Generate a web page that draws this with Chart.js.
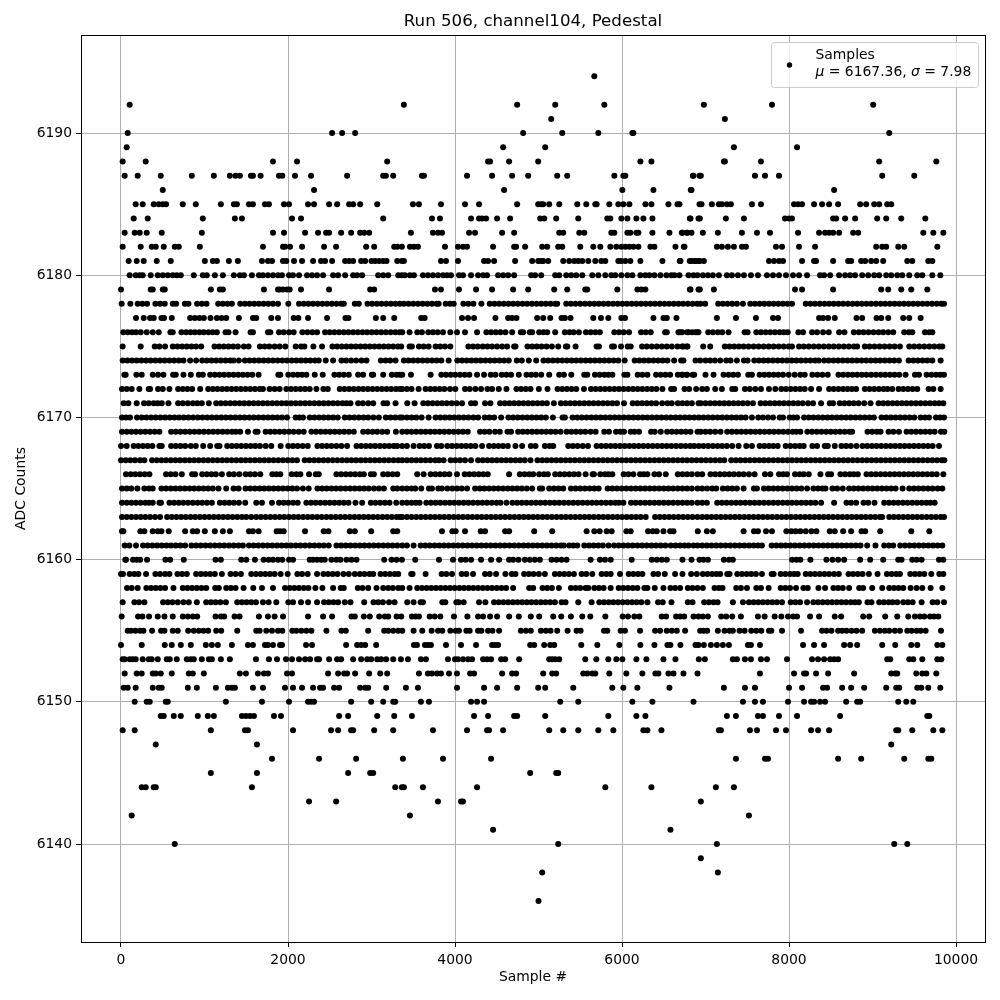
<!DOCTYPE html>
<html>
<head>
<meta charset="utf-8">
<script src="https://cdn.jsdelivr.net/npm/chart.js@4"></script>
<style>
html, body { margin: 0; padding: 0; background: #fff; }
canvas { display: block; }
</style>
</head>
<body>
<canvas id="chart" width="1000" height="1000"></canvas>
<script>
var titleText = 'Run 506, channel104, Pedestal';
var xLabel = 'Sample #';
var yLabel = 'ADC Counts';
var legendName = 'Samples';
var legendMean = '6167.36';
var legendSigma = '7.98';
var xTicks = [0, 2000, 4000, 6000, 8000, 10000];
var yTicks = [6140, 6150, 6160, 6170, 6180, 6190];

/* sample numbers, one list per ADC level */
var s6136 = [5000];
var s6138 = [5044, 7148];
var s6139 = [6944];
var s6140 = [644, 5236, 7136, 9260, 9416];
var s6141 = [4456, 6580];
var s6142 = [128, 3460, 7520];
var s6143 = [2252, 2576, 3796, 4072, 4096, 6944];
var s6144 = [248, 296, 392, 416, 1568, 3284, 3364, 3388, 3616, 4264, 5800, 6352, 7124, 7340];
var s6145 = [1076, 1628, 2720, 2984, 3020, 4900, 5212, 5236];
var s6146 = [1808, 2372, 2816, 3376, 3856, 4432, 7364, 7712, 7748, 8588, 8864, 9380, 9668, 9704];
var s6147 = [416, 1628, 9224];
var s6148 = [20, 164, 1076, 1484, 1520, 2060, 2516, 2600, 2756, 2780, 3032, 3260, 3736, 4144, 4384, 4408, 4576, 5128, 5296, 5476, 5716, 5896, 6256, 6304, 6472, 7160, 7184, 7532, 7616, 7844, 7964, 8264, 8348, 8480, 9284, 9308, 9476, 9728, 9836];
var s6149 = [476, 512, 632, 716, 920, 1040, 1112, 1448, 1496, 1544, 1592, 1832, 1916, 2612, 2720, 3068, 3272, 3484, 4228, 4396, 4708, 4744, 5080, 5836, 6172, 6280, 7256, 7364, 7628, 7688, 7880, 8096, 8612, 9656, 9680];
var s6150 = [164, 308, 344, 536, 560, 1256, 1688, 2012, 2240, 2276, 2312, 2756, 2996, 3140, 3260, 3284, 3592, 3688, 4192, 4264, 4348, 5260, 5476, 6124, 6364, 6856, 7448, 7592, 7688, 7988, 8180, 8264, 8300, 8372, 8432, 8684, 8816, 8852, 9308, 9404, 9488];
var s6151 = [32, 80, 176, 380, 452, 488, 800, 908, 1136, 1280, 1328, 1364, 1580, 1700, 1964, 2060, 2168, 2300, 2384, 2420, 2552, 2612, 2864, 2924, 2960, 3176, 3412, 3556, 4024, 4348, 4504, 4744, 4996, 5080, 5416, 5884, 6016, 6184, 6568, 7220, 7472, 7592, 8000, 8156, 8408, 8456, 8636, 8744, 8900, 9164, 9284, 9320, 9536, 9584, 9668, 9812];
var s6152 = [44, 188, 248, 380, 416, 476, 608, 812, 860, 992, 1424, 1496, 1640, 1712, 1760, 1988, 2048, 2480, 2600, 2672, 2708, 2804, 2972, 3104, 3188, 3568, 3676, 3724, 3784, 3832, 3928, 4024, 4180, 4228, 4564, 4684, 4732, 5056, 5164, 5212, 5536, 5584, 5644, 5680, 5848, 6052, 6244, 6400, 6436, 6556, 6616, 6736, 6904, 7652, 8060, 8180, 8204, 8324, 8468, 8780, 9224, 9272, 9296, 9524, 9596, 9644, 9764];
var s6153 = [20, 44, 104, 140, 176, 260, 332, 368, 440, 548, 584, 668, 788, 836, 872, 968, 1052, 1088, 1196, 1304, 1616, 1772, 1868, 1976, 2048, 2132, 2204, 2264, 2348, 2372, 2492, 2588, 2636, 2780, 2876, 2948, 2996, 3068, 3116, 3176, 3260, 3352, 3436, 3592, 3652, 3916, 4000, 4036, 4096, 4156, 4204, 4336, 4384, 4432, 4552, 4600, 4768, 5128, 5164, 5200, 5248, 5560, 5692, 5836, 5932, 6004, 6172, 6292, 6496, 6640, 6920, 6992, 7328, 7376, 7472, 7544, 7664, 7736, 7976, 8276, 8348, 8420, 8492, 8540, 8588, 9176, 9212, 9440, 9488, 9596, 9776, 9824];
var s6154 = [0, 248, 524, 608, 716, 836, 1016, 1088, 1160, 1328, 1520, 1580, 1724, 1760, 1820, 1904, 1928, 2216, 2288, 2696, 2828, 2876, 2924, 3056, 3508, 3544, 3640, 3676, 3712, 3892, 4072, 4252, 4444, 4480, 4516, 4900, 4948, 5068, 5140, 5188, 5512, 5704, 5968, 6220, 6388, 6544, 6580, 6700, 6880, 6916, 6980, 7064, 7136, 7208, 7280, 7508, 7544, 7652, 8168, 8300, 8420, 8660, 8732, 8816, 9116, 9272, 9464, 9536, 9776, 9836];
var s6155 = [80, 120, 172, 228, 268, 372, 480, 520, 620, 680, 804, 872, 932, 988, 1044, 1140, 1200, 1392, 1620, 1660, 1740, 1808, 1880, 1932, 2052, 2100, 2160, 2220, 2280, 2460, 2640, 2692, 2960, 3152, 3200, 3260, 3320, 3368, 3504, 3608, 3720, 3796, 3848, 3944, 4008, 4048, 4136, 4176, 4276, 4316, 4396, 4448, 4528, 4788, 4848, 4908, 5028, 5088, 5144, 5224, 5348, 5456, 5504, 5784, 5824, 5984, 6036, 6216, 6396, 6456, 6536, 6596, 6656, 6756, 6936, 6976, 7020, 7148, 7228, 7288, 7328, 7408, 7468, 7548, 7608, 7668, 7760, 7788, 7916, 8144, 8396, 8448, 8508, 8588, 8636, 8688, 8748, 8808, 8876, 9028, 9088, 9148, 9200, 9268, 9328, 9416, 9468, 9528, 9576, 9636, 9820];
var s6156 = [8, 204, 256, 336, 440, 520, 620, 740, 800, 860, 912, 1132, 1196, 1236, 1360, 1420, 1652, 1760, 1840, 1940, 2240, 2420, 2528, 2760, 2800, 2908, 2980, 3092, 3160, 3200, 3300, 3356, 3484, 3528, 3568, 3696, 3756, 3824, 3988, 4148, 4276, 4336, 4420, 4504, 4648, 4764, 4908, 5008, 5176, 5272, 5388, 5524, 5620, 5800, 6008, 6072, 6148, 6208, 6476, 6528, 6648, 6696, 6744, 6856, 6916, 6968, 7028, 7188, 7248, 7320, 7424, 7628, 7708, 7828, 7908, 7988, 8048, 8096, 8252, 8360, 8548, 8624, 8888, 8960, 9152, 9296, 9428, 9508, 9568, 9620, 9688, 9736, 9788];
var s6157 = [20, 160, 216, 280, 504, 560, 616, 680, 748, 812, 908, 1020, 1076, 1132, 1190, 1256, 1392, 1448, 1504, 1560, 1616, 1700, 1768, 1860, 2004, 2060, 2156, 2240, 2348, 2432, 2488, 2544, 2600, 2680, 2748, 2912, 3024, 3080, 3136, 3210, 3276, 3428, 3504, 3588, 3616, 3848, 3884, 4016, 4044, 4104, 4288, 4364, 4468, 4524, 4580, 4636, 4692, 4748, 4804, 4860, 4916, 4972, 5028, 5084, 5140, 5196, 5276, 5324, 5476, 5636, 5728, 5784, 5840, 5896, 5952, 6008, 6064, 6120, 6176, 6232, 6304, 6432, 6488, 6592, 6788, 6844, 6984, 7040, 7096, 7144, 7328, 7448, 7520, 7576, 7632, 7688, 7744, 7800, 7856, 7916, 8020, 8076, 8132, 8216, 8292, 8348, 8404, 8460, 8516, 8572, 8628, 8684, 8740, 8790, 8836, 8940, 8988, 9080, 9136, 9192, 9240, 9296, 9368, 9424, 9480, 9588, 9720, 9776, 9856];
var s6158 = [72, 128, 200, 304, 360, 416, 472, 528, 628, 740, 796, 852, 908, 964, 1020, 1128, 1172, 1260, 1316, 1372, 1468, 1584, 1688, 1820, 1964, 2020, 2076, 2132, 2188, 2244, 2328, 2412, 2540, 2632, 2668, 2836, 2892, 2960, 3060, 3140, 3200, 3256, 3320, 3368, 3456, 3548, 3604, 3660, 3716, 3772, 3828, 3884, 3940, 3996, 4052, 4108, 4164, 4220, 4276, 4332, 4388, 4444, 4500, 4556, 4612, 4696, 4888, 4936, 5048, 5104, 5160, 5244, 5388, 5444, 5500, 5564, 5596, 5668, 5724, 5780, 5864, 5960, 6016, 6072, 6128, 6184, 6268, 6304, 6392, 6496, 6580, 6636, 6696, 6788, 6844, 6904, 6968, 7108, 7160, 7204, 7368, 7424, 7496, 7608, 7664, 7756, 7900, 7956, 8012, 8084, 8172, 8224, 8352, 8432, 8532, 8588, 8644, 8720, 8840, 8888, 8996, 9116, 9200, 9256, 9312, 9368, 9456, 9528, 9596, 9696, 9836];
var s6159 = [0, 24, 104, 160, 208, 300, 412, 468, 528, 580, 676, 732, 788, 900, 956, 1012, 1068, 1124, 1208, 1312, 1372, 1436, 1560, 1616, 1672, 1728, 1784, 1840, 1912, 1996, 2112, 2168, 2236, 2348, 2424, 2480, 2536, 2592, 2664, 2728, 2800, 2860, 2916, 2976, 3020, 3108, 3164, 3220, 3276, 3320, 3476, 3492, 3648, 3840, 3896, 3964, 4080, 4136, 4216, 4360, 4416, 4492, 4604, 4680, 4724, 4828, 4884, 4940, 5004, 5076, 5196, 5252, 5308, 5364, 5424, 5516, 5572, 5644, 5756, 5812, 5864, 5976, 6080, 6136, 6192, 6244, 6376, 6432, 6512, 6636, 6724, 6828, 6896, 6968, 7024, 7080, 7130, 7176, 7260, 7288, 7380, 7436, 7492, 7548, 7604, 7676, 7792, 7816, 7900, 7956, 8012, 8060, 8104, 8200, 8256, 8312, 8368, 8424, 8480, 8540, 8596, 8712, 8768, 8824, 8880, 8956, 9060, 9172, 9228, 9284, 9328, 9452, 9508, 9564, 9620, 9704, 9800, 9848];
var s6160 = [52, 60, 144, 188, 228, 312, 532, 588, 752, 1132, 1196, 1440, 1500, 1604, 1708, 1768, 1820, 1880, 1932, 2012, 2060, 2260, 2300, 2348, 2396, 2440, 2520, 2580, 2628, 2700, 2760, 2820, 3152, 3240, 3300, 3364, 3524, 3808, 3976, 4072, 4128, 4192, 4312, 4432, 4528, 4648, 4696, 4760, 4836, 4896, 4956, 5016, 5156, 5216, 5276, 5336, 5624, 5736, 5796, 5864, 6116, 6356, 6416, 6476, 6536, 6724, 6832, 6928, 6976, 7028, 7220, 7280, 7328, 8036, 8088, 8136, 8256, 8448, 8520, 8588, 8660, 8852, 8972, 9128, 9308, 9348, 9476, 9528, 9588, 9796, 9848];
var s6161 = [44, 100, 180, 264, 320, 376, 432, 488, 544, 600, 656, 712, 768, 844, 900, 956, 1012, 1068, 1124, 1180, 1236, 1292, 1350, 1408, 1460, 1532, 1588, 1644, 1700, 1756, 1812, 1868, 1924, 1980, 2036, 2092, 2148, 2204, 2260, 2316, 2372, 2428, 2488, 2580, 2636, 2692, 2748, 2804, 2860, 2916, 2972, 3028, 3084, 3140, 3196, 3252, 3308, 3368, 3424, 3504, 3588, 3644, 3700, 3756, 3812, 3868, 3924, 3980, 4036, 4092, 4148, 4204, 4260, 4316, 4372, 4428, 4484, 4540, 4596, 4652, 4708, 4764, 4820, 4876, 4932, 4988, 5044, 5100, 5156, 5212, 5268, 5304, 5368, 5416, 5464, 5548, 5604, 5660, 5716, 5772, 5840, 5904, 5960, 6016, 6072, 6128, 6184, 6240, 6296, 6352, 6408, 6464, 6520, 6584, 6640, 6696, 6748, 6796, 6856, 6904, 6960, 7016, 7072, 7128, 7184, 7240, 7296, 7352, 7408, 7464, 7520, 7576, 7628, 7676, 7792, 7848, 7904, 7960, 8016, 8072, 8128, 8184, 8240, 8296, 8352, 8408, 8464, 8520, 8576, 8632, 8688, 8744, 8800, 8856, 8936, 9036, 9140, 9196, 9248, 9332, 9388, 9444, 9500, 9556, 9612, 9668, 9724, 9780, 9836];
var s6162 = [12, 28, 232, 280, 380, 440, 484, 572, 768, 860, 912, 1004, 1124, 1220, 1304, 1532, 1580, 1648, 1864, 1904, 1948, 2204, 2428, 2484, 2740, 2800, 2996, 3260, 3308, 3844, 3968, 4008, 4120, 4308, 4360, 4600, 4648, 4948, 5164, 5576, 5668, 5732, 5816, 5876, 6052, 6104, 6312, 6368, 6416, 6496, 6576, 6616, 6908, 7016, 7088, 7456, 7580, 7628, 7724, 7796, 7968, 8028, 8080, 8136, 8200, 8268, 8328, 8488, 8548, 8648, 8744, 8868, 8912, 9092, 9464, 9680];
var s6163 = [12, 68, 124, 180, 236, 292, 348, 408, 468, 552, 608, 664, 720, 776, 832, 888, 944, 1000, 1056, 1112, 1168, 1224, 1280, 1336, 1392, 1448, 1500, 1560, 1620, 1676, 1732, 1788, 1844, 1900, 1956, 2012, 2068, 2124, 2180, 2236, 2292, 2348, 2404, 2460, 2516, 2572, 2628, 2684, 2740, 2796, 2852, 2908, 2964, 3020, 3076, 3132, 3188, 3244, 3300, 3340, 3368, 3424, 3480, 3536, 3592, 3648, 3704, 3760, 3816, 3872, 3928, 3984, 4040, 4096, 4152, 4208, 4264, 4320, 4376, 4432, 4488, 4544, 4600, 4656, 4712, 4768, 4824, 4880, 4936, 4992, 5048, 5104, 5160, 5216, 5272, 5328, 5384, 5440, 5496, 5552, 5608, 5664, 5720, 5776, 5832, 5888, 5944, 6000, 6056, 6112, 6168, 6224, 6284, 6396, 6452, 6508, 6564, 6620, 6676, 6732, 6788, 6844, 6904, 6960, 7016, 7072, 7128, 7184, 7240, 7296, 7352, 7408, 7464, 7520, 7576, 7632, 7688, 7744, 7800, 7856, 7912, 7968, 8024, 8080, 8136, 8192, 8248, 8304, 8360, 8416, 8472, 8528, 8584, 8640, 8696, 8752, 8808, 8864, 8920, 8976, 9032, 9088, 9116, 9200, 9256, 9312, 9368, 9424, 9480, 9536, 9592, 9648, 9704, 9760, 9816, 9856];
var s6164 = [12, 68, 124, 180, 236, 292, 336, 380, 460, 480, 580, 636, 692, 748, 804, 860, 916, 972, 1030, 1088, 1184, 1240, 1296, 1352, 1412, 1488, 1620, 1688, 1808, 1892, 1948, 2004, 2060, 2116, 2220, 2276, 2332, 2388, 2444, 2500, 2556, 2612, 2668, 2724, 2808, 2888, 2992, 3048, 3104, 3160, 3216, 3296, 3368, 3424, 3480, 3530, 3576, 3656, 3712, 3768, 3824, 3880, 3936, 3992, 4048, 4104, 4160, 4216, 4272, 4328, 4384, 4440, 4496, 4544, 4616, 4688, 4744, 4800, 4856, 4912, 4968, 5024, 5080, 5136, 5192, 5248, 5304, 5360, 5416, 5472, 5528, 5584, 5640, 5696, 5752, 5808, 5864, 5920, 5964, 6016, 6108, 6164, 6220, 6276, 6332, 6388, 6444, 6500, 6556, 6612, 6668, 6724, 6780, 6836, 6904, 6960, 7016, 7140, 7196, 7252, 7308, 7364, 7420, 7476, 7532, 7588, 7644, 7700, 7756, 7812, 7868, 7924, 7980, 8036, 8092, 8148, 8204, 8260, 8316, 8384, 8540, 8688, 8744, 8804, 8892, 8948, 9024, 9140, 9196, 9252, 9308, 9364, 9420, 9476, 9532, 9588, 9644, 9692, 9744];
var s6165 = [12, 68, 124, 196, 280, 336, 380, 484, 540, 596, 652, 708, 764, 820, 876, 932, 988, 1044, 1100, 1168, 1260, 1348, 1408, 1492, 1548, 1604, 1660, 1716, 1772, 1828, 1884, 1940, 1996, 2052, 2108, 2178, 2248, 2352, 2408, 2464, 2520, 2576, 2632, 2688, 2744, 2800, 2856, 2912, 2968, 3030, 3090, 3148, 3260, 3308, 3368, 3424, 3480, 3524, 3596, 3688, 3724, 3800, 3844, 3908, 3968, 4024, 4080, 4144, 4240, 4296, 4352, 4408, 4464, 4520, 4576, 4632, 4688, 4744, 4800, 4860, 4924, 5016, 5044, 5128, 5184, 5240, 5296, 5388, 5444, 5500, 5556, 5612, 5668, 5720, 5828, 5884, 5940, 5996, 6052, 6108, 6164, 6220, 6276, 6332, 6388, 6444, 6500, 6556, 6612, 6668, 6724, 6780, 6836, 6904, 6960, 7020, 7080, 7128, 7208, 7264, 7320, 7376, 7456, 7580, 7616, 7700, 7756, 7812, 7868, 7924, 7980, 8036, 8092, 8148, 8216, 8292, 8348, 8400, 8436, 8520, 8576, 8644, 8720, 8776, 8832, 8888, 8944, 9000, 9056, 9112, 9168, 9224, 9276, 9360, 9440, 9496, 9552, 9608, 9664, 9720, 9780, 9836];
var s6166 = [60, 116, 172, 228, 284, 340, 540, 596, 652, 728, 852, 888, 972, 1028, 1084, 1136, 1208, 1296, 1352, 1416, 1492, 1548, 1604, 1668, 1812, 1860, 1908, 2044, 2100, 2148, 2252, 2332, 2368, 2580, 2636, 2692, 2748, 2804, 2860, 2908, 2992, 3028, 3140, 3196, 3252, 3308, 3548, 3624, 3708, 3764, 3820, 3876, 3932, 4024, 4116, 4172, 4228, 4284, 4340, 4392, 4648, 4776, 4832, 4888, 4936, 5008, 5064, 5112, 5200, 5256, 5312, 5368, 5424, 5480, 5564, 5648, 5664, 5740, 5796, 5840, 5884, 6020, 6076, 6136, 6216, 6260, 6304, 6388, 6444, 6524, 6668, 6724, 6780, 6836, 6904, 6960, 7060, 7116, 7172, 7228, 7284, 7340, 7400, 7456, 7520, 7588, 7712, 7776, 7880, 7930, 7976, 8072, 8128, 8176, 8236, 8376, 8468, 8504, 8616, 8672, 8728, 8775, 8824, 8928, 8984, 9040, 9096, 9152, 9208, 9264, 9320, 9376, 9432, 9488, 9544, 9600, 9656, 9712, 9768, 9848];
var s6167 = [0, 56, 112, 168, 228, 280, 372, 428, 484, 540, 596, 652, 708, 764, 820, 876, 932, 988, 1044, 1100, 1156, 1212, 1268, 1324, 1380, 1436, 1492, 1548, 1604, 1660, 1716, 1772, 1828, 1884, 1940, 1996, 2052, 2108, 2200, 2256, 2312, 2368, 2424, 2480, 2536, 2592, 2648, 2704, 2760, 2816, 2872, 2928, 2984, 3040, 3096, 3152, 3208, 3264, 3320, 3368, 3424, 3480, 3536, 3592, 3648, 3704, 3764, 3808, 3864, 3948, 4004, 4060, 4120, 4192, 4276, 4332, 4388, 4444, 4500, 4556, 4612, 4668, 4724, 4780, 4836, 4904, 4988, 5044, 5100, 5156, 5212, 5268, 5324, 5380, 5436, 5492, 5548, 5604, 5660, 5716, 5772, 5828, 5884, 5940, 5996, 6052, 6108, 6164, 6220, 6276, 6332, 6388, 6444, 6500, 6556, 6612, 6668, 6724, 6780, 6836, 6892, 6948, 7004, 7060, 7116, 7172, 7224, 7308, 7364, 7420, 7476, 7532, 7588, 7644, 7700, 7756, 7812, 7868, 7924, 7980, 8036, 8092, 8148, 8204, 8260, 8316, 8372, 8428, 8484, 8540, 8596, 8652, 8708, 8764, 8820, 8876, 8932, 8988, 9044, 9100, 9156, 9212, 9268, 9324, 9380, 9436, 9492, 9548, 9604, 9660, 9716, 9772, 9828, 9860];
var s6168 = [0, 68, 152, 208, 264, 320, 376, 460, 488, 600, 656, 712, 768, 836, 896, 984, 1068, 1152, 1180, 1272, 1328, 1384, 1440, 1496, 1552, 1608, 1664, 1732, 1800, 1912, 2004, 2060, 2116, 2176, 2236, 2352, 2408, 2464, 2520, 2580, 2640, 2708, 2820, 2876, 2932, 2988, 3044, 3100, 3156, 3212, 3268, 3308, 3368, 3424, 3504, 3576, 3632, 3688, 3784, 3836, 3908, 3964, 4020, 4076, 4132, 4188, 4244, 4324, 4408, 4464, 4520, 4576, 4632, 4724, 4804, 4908, 4964, 5076, 5132, 5176, 5356, 5412, 5468, 5530, 5592, 5696, 5752, 5808, 5864, 5920, 5976, 6032, 6088, 6144, 6200, 6256, 6312, 6368, 6424, 6480, 6536, 6592, 6648, 6704, 6760, 6816, 6864, 6920, 6976, 7032, 7088, 7144, 7200, 7256, 7320, 7396, 7488, 7556, 7648, 7704, 7760, 7812, 7864, 7960, 8016, 8072, 8128, 8176, 8280, 8336, 8428, 8464, 8548, 8628, 8684, 8740, 8808, 8880, 8936, 8992, 9048, 9104, 9160, 9216, 9272, 9328, 9384, 9440, 9496, 9552, 9608, 9664, 9720, 9796];
var s6169 = [12, 68, 124, 180, 236, 292, 348, 404, 460, 600, 656, 712, 768, 824, 880, 936, 992, 1048, 1104, 1160, 1216, 1272, 1328, 1376, 1428, 1520, 1612, 1636, 1732, 1788, 1844, 1900, 1956, 2012, 2068, 2128, 2188, 2280, 2336, 2392, 2448, 2504, 2560, 2616, 2672, 2728, 2788, 2900, 2956, 3012, 3068, 3128, 3188, 3292, 3368, 3424, 3480, 3536, 3592, 3648, 3704, 3760, 3816, 3872, 3928, 3984, 4040, 4096, 4152, 4300, 4356, 4412, 4480, 4536, 4628, 4672, 4756, 4812, 4868, 4924, 4980, 5036, 5092, 5148, 5204, 5264, 5336, 5392, 5448, 5504, 5560, 5624, 5684, 5788, 5844, 5928, 5980, 6024, 6104, 6150, 6204, 6348, 6392, 6464, 6540, 6596, 6652, 6708, 6764, 6820, 6904, 6944, 7000, 7056, 7116, 7180, 7260, 7316, 7372, 7428, 7484, 7540, 7596, 7652, 7708, 7764, 7820, 7876, 7932, 7988, 8044, 8088, 8136, 8220, 8276, 8332, 8388, 8444, 8500, 8556, 8612, 8668, 8724, 8756, 8940, 8996, 9052, 9096, 9192, 9250, 9316, 9408, 9464, 9520, 9576, 9632, 9688, 9744, 9820, 9860];
var s6170 = [12, 60, 108, 192, 248, 304, 360, 416, 472, 528, 584, 640, 696, 752, 808, 864, 920, 976, 1032, 1088, 1144, 1200, 1256, 1312, 1368, 1424, 1480, 1536, 1592, 1648, 1704, 1760, 1816, 1872, 1928, 1988, 2092, 2136, 2180, 2260, 2316, 2372, 2428, 2484, 2540, 2596, 2680, 2736, 2792, 2848, 2904, 2960, 3024, 3088, 3172, 3228, 3284, 3340, 3368, 3424, 3480, 3536, 3600, 3684, 3768, 3824, 3880, 3936, 3992, 4048, 4104, 4160, 4220, 4276, 4356, 4412, 4468, 4552, 4640, 4696, 4752, 4808, 4864, 4920, 4976, 5032, 5088, 5172, 5288, 5316, 5408, 5464, 5520, 5576, 5632, 5688, 5744, 5800, 5856, 5912, 5968, 6024, 6080, 6136, 6192, 6248, 6304, 6360, 6416, 6472, 6528, 6584, 6640, 6696, 6752, 6808, 6864, 6920, 6976, 7032, 7088, 7144, 7200, 7256, 7312, 7368, 7424, 7480, 7556, 7632, 7688, 7748, 7808, 7888, 7928, 8008, 8052, 8096, 8180, 8236, 8292, 8348, 8404, 8460, 8516, 8572, 8628, 8684, 8740, 8796, 8852, 8908, 8964, 9016, 9108, 9164, 9220, 9276, 9332, 9388, 9444, 9500, 9576, 9628, 9676, 9760, 9810, 9856];
var s6171 = [32, 88, 188, 276, 332, 392, 440, 488, 568, 684, 740, 800, 860, 914, 968, 1052, 1140, 1196, 1252, 1308, 1364, 1420, 1476, 1532, 1588, 1644, 1700, 1756, 1812, 1868, 1924, 1980, 2036, 2092, 2148, 2204, 2260, 2316, 2372, 2428, 2484, 2540, 2596, 2652, 2700, 2748, 2840, 2896, 2960, 3020, 3144, 3188, 3288, 3428, 3516, 3620, 3676, 3732, 3788, 3844, 3900, 3960, 4020, 4084, 4192, 4240, 4360, 4424, 4540, 4596, 4652, 4708, 4764, 4820, 4876, 4932, 4988, 5044, 5100, 5184, 5268, 5324, 5380, 5436, 5492, 5548, 5604, 5660, 5716, 5772, 5828, 5884, 5940, 6024, 6128, 6184, 6240, 6296, 6352, 6408, 6480, 6544, 6596, 6668, 6724, 6780, 6836, 6916, 6944, 7000, 7056, 7112, 7168, 7224, 7280, 7336, 7392, 7448, 7504, 7568, 7660, 7716, 7772, 7828, 7884, 7940, 7996, 8052, 8108, 8164, 8228, 8288, 8384, 8488, 8528, 8608, 8664, 8720, 8776, 8832, 8900, 8976, 9072, 9128, 9184, 9240, 9296, 9352, 9408, 9464, 9520, 9576, 9632, 9688, 9744, 9796, 9848];
var s6172 = [12, 68, 128, 220, 332, 348, 444, 500, 580, 684, 740, 796, 852, 948, 1044, 1100, 1156, 1212, 1268, 1324, 1380, 1436, 1492, 1548, 1604, 1660, 1700, 1780, 1840, 1900, 1980, 2036, 2092, 2148, 2204, 2260, 2340, 2424, 2476, 2620, 2676, 2732, 2788, 2844, 2900, 2956, 3012, 3068, 3124, 3180, 3236, 3292, 3340, 3368, 3424, 3480, 3564, 3648, 3704, 3760, 3816, 3872, 3940, 4004, 4120, 4176, 4244, 4312, 4388, 4444, 4524, 4616, 4736, 4792, 4848, 4904, 5004, 5108, 5228, 5284, 5340, 5396, 5452, 5544, 5628, 5684, 5740, 5796, 5852, 5908, 5964, 6020, 6076, 6132, 6188, 6244, 6300, 6356, 6412, 6484, 6588, 6624, 6748, 6804, 6888, 6960, 7016, 7116, 7196, 7320, 7356, 7472, 7530, 7596, 7664, 7760, 7836, 7908, 7964, 8020, 8076, 8132, 8188, 8264, 8360, 8480, 8536, 8592, 8648, 8700, 8752, 8804, 8908, 8964, 9020, 9076, 9132, 9180, 9236, 9312, 9368, 9424, 9480, 9536, 9672, 9728, 9816];
var s6173 = [40, 56, 184, 248, 380, 444, 508, 624, 656, 748, 836, 932, 980, 1068, 1124, 1180, 1236, 1292, 1348, 1404, 1460, 1516, 1572, 1648, 1884, 1908, 2004, 2060, 2116, 2168, 2220, 2320, 2416, 2556, 2612, 2668, 2728, 2840, 2900, 3004, 3020, 3140, 3244, 3300, 3340, 3368, 3472, 3708, 3836, 3892, 3948, 4004, 4060, 4116, 4172, 4264, 4348, 4428, 4484, 4560, 4616, 4672, 4764, 4856, 4912, 4968, 5032, 5128, 5248, 5304, 5392, 5548, 5584, 5676, 5732, 5788, 5836, 5884, 6028, 6064, 6188, 6244, 6304, 6408, 6464, 6520, 6576, 6668, 6724, 6780, 6864, 6720, 6772, 6844, 7000, 7096, 7216, 7276, 7332, 7388, 7512, 7556, 7648, 7704, 7760, 7816, 7872, 7928, 7996, 8068, 8136, 8188, 8280, 8340, 8400, 8464, 8592, 8648, 8704, 8760, 8816, 8872, 8928, 8984, 9040, 9096, 9152, 9208, 9264, 9320, 9396, 9508, 9556, 9648, 9704, 9760, 9810, 9856];
var s6174 = [20, 76, 132, 188, 244, 300, 356, 412, 468, 524, 580, 636, 692, 748, 828, 900, 972, 1028, 1084, 1140, 1196, 1252, 1308, 1348, 1412, 1484, 1540, 1596, 1652, 1708, 1764, 1820, 1876, 1932, 1988, 2044, 2100, 2156, 2212, 2268, 2324, 2368, 2452, 2540, 2640, 2696, 2756, 2816, 2880, 2940, 3112, 3168, 3224, 3288, 3388, 3444, 3500, 3556, 3612, 3668, 3724, 3780, 3836, 3924, 4028, 4084, 4140, 4196, 4252, 4308, 4364, 4420, 4476, 4532, 4588, 4644, 4740, 4800, 4884, 4972, 5060, 5116, 5172, 5228, 5284, 5340, 5396, 5452, 5508, 5564, 5620, 5676, 5732, 5788, 5844, 5900, 5956, 6032, 6152, 6208, 6264, 6320, 6376, 6432, 6488, 6544, 6624, 6708, 6736, 6880, 6936, 7000, 7056, 7112, 7176, 7248, 7300, 7376, 7460, 7504, 7584, 7640, 7696, 7752, 7808, 7864, 7920, 7976, 8032, 8088, 8144, 8200, 8256, 8312, 8356, 8420, 8476, 8532, 8588, 8644, 8700, 8756, 8812, 8868, 8924, 8980, 9036, 9092, 9148, 9204, 9260, 9316, 9432, 9488, 9544, 9600, 9656, 9716, 9816];
var s6175 = [20, 236, 404, 460, 528, 620, 676, 732, 788, 844, 900, 960, 1120, 1176, 1232, 1288, 1344, 1400, 1472, 1528, 1664, 1720, 1776, 1840, 1900, 1968, 2092, 2156, 2196, 2304, 2408, 2532, 2588, 2644, 2700, 2756, 2812, 2868, 2924, 2980, 3036, 3092, 3148, 3204, 3260, 3316, 3356, 3456, 3484, 3568, 3624, 3684, 3768, 3824, 3880, 3944, 4160, 4216, 4272, 4332, 4388, 4444, 4504, 4564, 4624, 4708, 4724, 4868, 4924, 4980, 5036, 5096, 5160, 5236, 5328, 5344, 5444, 5696, 5724, 5880, 5904, 5988, 6068, 6104, 6240, 6296, 6356, 6416, 6476, 6536, 6596, 6664, 6736, 6784, 6720, 6776, 6972, 7056, 7232, 7288, 7344, 7400, 7456, 7516, 7576, 7636, 7696, 7756, 7816, 7876, 7936, 7996, 8036, 8120, 8176, 8236, 8296, 8356, 8416, 8476, 8536, 8596, 8656, 8716, 8776, 8816, 8908, 8964, 9024, 9084, 9144, 9204, 9264, 9328, 9440, 9500, 9560, 9620, 9680, 9740, 9800, 9836];
var s6176 = [28, 80, 132, 180, 236, 308, 380, 452, 592, 620, 724, 780, 832, 884, 940, 992, 1048, 1100, 1148, 1252, 1288, 1372, 1552, 1580, 1760, 1788, 1892, 1948, 2012, 2068, 2172, 2232, 2292, 2348, 2444, 2500, 2556, 2612, 2668, 2724, 2780, 2836, 2892, 2948, 3004, 3060, 3116, 3172, 3228, 3284, 3336, 3368, 3456, 3548, 3604, 3680, 3736, 3792, 3856, 3944, 4024, 4120, 4264, 4376, 4432, 4488, 4544, 4604, 4684, 4788, 4816, 4896, 4924, 5008, 5060, 5104, 5200, 5316, 5372, 5420, 5484, 5568, 5624, 5680, 5734, 5908, 5964, 6020, 6084, 6228, 6284, 6344, 6516, 6536, 6676, 6696, 6780, 6840, 6916, 6720, 6796, 6880, 6904, 7032, 7088, 7148, 7200, 7276, 7468, 7504, 7608, 7664, 7720, 7776, 7832, 7888, 7936, 7984, 8112, 8168, 8276, 8336, 8408, 8476, 8600, 8664, 8776, 8836, 8892, 8952, 9012, 9072, 9128, 9188, 9248, 9380, 9436, 9476, 9628, 9680, 9716];
var s6177 = [180, 272, 348, 392, 484, 516, 608, 828, 884, 940, 992, 1072, 1148, 1204, 1260, 1412, 1580, 1620, 1800, 1880, 2068, 2124, 2240, 2468, 2688, 2724, 3052, 3140, 3272, 3596, 3636, 4084, 4156, 4228, 4484, 4636, 4684, 4736, 4984, 5056, 5140, 5276, 5316, 5384, 5656, 5748, 5836, 5992, 6036, 6376, 6496, 6536, 6652, 7136, 7364, 7604, 7808, 7868, 8360, 8408, 8468, 8548, 8808, 8876, 9048, 9104, 9188, 9368, 9440, 9576];
var s6178 = [8, 112, 200, 256, 312, 412, 468, 524, 620, 660, 764, 808, 912, 968, 1024, 1164, 1220, 1276, 1328, 1428, 1484, 1540, 1596, 1652, 1708, 1764, 1820, 1880, 2004, 2132, 2188, 2244, 2300, 2356, 2412, 2468, 2524, 2580, 2636, 2668, 2800, 2848, 2952, 3008, 3064, 3120, 3176, 3232, 3288, 3340, 3388, 3444, 3500, 3556, 3612, 3668, 3724, 3780, 3804, 3888, 3940, 3984, 4100, 4160, 4220, 4316, 4416, 4472, 4528, 4584, 4640, 4696, 4752, 4808, 4864, 4920, 4976, 5032, 5088, 5144, 5200, 5224, 5332, 5388, 5444, 5500, 5556, 5612, 5668, 5724, 5780, 5836, 5892, 5948, 6004, 6060, 6116, 6172, 6228, 6284, 6340, 6396, 6452, 6508, 6564, 6620, 6676, 6732, 6788, 6844, 6900, 6940, 6996, 7152, 7208, 7264, 7320, 7376, 7448, 7536, 7592, 7648, 7704, 7760, 7816, 7872, 7928, 7984, 8036, 8200, 8256, 8312, 8368, 8424, 8480, 8536, 8592, 8648, 8704, 8760, 8816, 8872, 8928, 8984, 9040, 9096, 9152, 9208, 9264, 9320, 9376, 9432, 9488, 9544, 9600, 9656, 9712, 9768, 9824, 9856];
var s6179 = [0, 356, 380, 500, 524, 1076, 1184, 1220, 1712, 1880, 1900, 1940, 1988, 2020, 2156, 2492, 2984, 3032, 3760, 3832, 4048, 4252, 4444, 4696, 4876, 5188, 5344, 5560, 5584, 5944, 6184, 6232, 6280, 6820, 6916, 6812, 6932, 7100, 8072, 8156, 8528, 9104, 9188, 9344, 9464, 9656];
var s6180 = [104, 176, 224, 260, 356, 440, 500, 560, 620, 668, 716, 872, 980, 1028, 1124, 1220, 1352, 1424, 1472, 1568, 1652, 1700, 1760, 1820, 1880, 1928, 2012, 2060, 2132, 2228, 2288, 2348, 2420, 2540, 2600, 2684, 2780, 2828, 2888, 3080, 3140, 3200, 3320, 3364, 3400, 3460, 3508, 3616, 3676, 3736, 3796, 3856, 3904, 3952, 4048, 4096, 4192, 4276, 4336, 4384, 4516, 4576, 4636, 4708, 4912, 4960, 5032, 5200, 5248, 5332, 5392, 5452, 5524, 5644, 5716, 5800, 5872, 5920, 5992, 6064, 6124, 6220, 6280, 6328, 6388, 6460, 6532, 6592, 6628, 6688, 6796, 6856, 6904, 6968, 7028, 7088, 7160, 7256, 7316, 7388, 7460, 7544, 7628, 7736, 7808, 7880, 7964, 8048, 8120, 8216, 8372, 8420, 8492, 8600, 8672, 8732, 8792, 8876, 8948, 9020, 9080, 9164, 9224, 9296, 9356, 9440, 9536, 9596, 9716, 9812];
var s6181 = [92, 188, 272, 428, 596, 1004, 1100, 1148, 1292, 1400, 1688, 1760, 1808, 1940, 1980, 2072, 2168, 2300, 2396, 2444, 2528, 2684, 2732, 2780, 2876, 2924, 3000, 3044, 3092, 3140, 3180, 3308, 3364, 3388, 3832, 3892, 4036, 4348, 4396, 4468, 4720, 4924, 4996, 5032, 5056, 5116, 5296, 5368, 5428, 5476, 5524, 5596, 5680, 5752, 5800, 5956, 5992, 6040, 6100, 6220, 6484, 6700, 6832, 6880, 6916, 6692, 6812, 6872, 6932, 6980, 7760, 7820, 7880, 7928, 8156, 8300, 8324, 8528, 8708, 8744, 8864, 8912, 8984, 9044, 9128, 9416, 9476, 9668, 9716];
var s6182 = [20, 236, 368, 416, 512, 644, 692, 944, 1700, 1940, 1964, 2024, 2168, 2432, 2576, 2936, 3032, 3272, 3308, 3364, 3460, 3508, 3556, 3880, 4036, 4096, 4144, 4456, 4708, 4732, 4840, 5044, 5104, 5236, 5284, 5500, 5656, 5740, 5860, 5932, 5992, 6040, 6088, 6136, 6196, 6340, 6388, 6640, 6748, 6740, 7136, 7196, 7268, 7340, 7436, 7484, 7844, 7916, 8120, 8312, 9044, 9116, 9164, 9308, 9380, 9776];
var s6183 = [44, 164, 224, 308, 488, 968, 1820, 1952, 2204, 2360, 2456, 2492, 2636, 2756, 2864, 2912, 2972, 3472, 3736, 3796, 3844, 4168, 4240, 4564, 4708, 5248, 5296, 5488, 5548, 5872, 5908, 6064, 6100, 6172, 6196, 6364, 6568, 6724, 6784, 6832, 6716, 6776, 6968, 7148, 7436, 7616, 7772, 8108, 8360, 8432, 8480, 8528, 8600, 8768, 8828, 9608, 9728, 9848];
var s6184 = [152, 320, 980, 1364, 1448, 2048, 2156, 3140, 3724, 3820, 4192, 4288, 4324, 4372, 4504, 4660, 5020, 5068, 5212, 5476, 5824, 5860, 5992, 6064, 6172, 6256, 6364, 6820, 6916, 6812, 6932, 7244, 7460, 7952, 8000, 8036, 8528, 8564, 8672, 8792, 9056, 9164, 9344, 9632];
var s6185 = [176, 260, 392, 452, 500, 540, 740, 896, 1196, 1352, 1388, 1532, 1580, 1724, 1772, 1952, 2012, 2240, 2312, 2492, 2588, 2732, 2780, 2864, 3068, 3496, 3568, 3832, 4120, 4288, 4744, 4996, 5032, 5056, 5128, 5248, 5464, 5572, 5680, 5696, 5848, 5956, 6016, 6088, 6280, 6352, 6556, 6664, 6688, 6928, 6952, 7076, 7160, 7196, 7256, 7304, 7556, 7664, 8060, 8108, 8156, 8300, 8396, 8480, 8588, 8852, 8924, 9020, 9080, 9176, 9224];
var s6186 = [500, 2312, 4588, 6004, 6376, 6832, 6824, 8540];
var s6187 = [44, 200, 476, 848, 1112, 1304, 1372, 1424, 1556, 1580, 1672, 1892, 1932, 2084, 2276, 2708, 3140, 3172, 3260, 3604, 3628, 4144, 4444, 4684, 4876, 5224, 5344, 5908, 6016, 6040, 6856, 6928, 6848, 6944, 7592, 7712, 7880, 9116, 9500];
var s6188 = [20, 296, 1820, 2108, 3188, 4396, 4420, 4648, 4996, 6220, 6352, 7220, 7232, 7664, 9080, 9764];
var s6189 = [68, 4576, 5080, 7340, 8096];
var s6190 = [80, 2528, 2648, 2804, 4816, 5284, 5716, 6124, 6136, 9200];
var s6191 = [5152, 7232];
var s6192 = [104, 3388, 4744, 5200, 5788, 6980, 7796, 9008];
var s6194 = [5668];

var adcLevels = [6136, 6138, 6139, 6140, 6141, 6142, 6143, 6144, 6145, 6146, 6147, 6148, 6149, 6150, 6151, 6152, 6153, 6154, 6155, 6156, 6157, 6158, 6159, 6160, 6161, 6162, 6163, 6164, 6165, 6166, 6167, 6168, 6169, 6170, 6171, 6172, 6173, 6174, 6175, 6176, 6177, 6178, 6179, 6180, 6181, 6182, 6183, 6184, 6185, 6186, 6187, 6188, 6189, 6190, 6191, 6192, 6194];
var sampleRows = [s6136, s6138, s6139, s6140, s6141, s6142, s6143, s6144, s6145, s6146, s6147, s6148, s6149, s6150, s6151, s6152, s6153, s6154, s6155, s6156, s6157, s6158, s6159, s6160, s6161, s6162, s6163, s6164, s6165, s6166, s6167, s6168, s6169, s6170, s6171, s6172, s6173, s6174, s6175, s6176, s6177, s6178, s6179, s6180, s6181, s6182, s6183, s6184, s6185, s6186, s6187, s6188, s6189, s6190, s6191, s6192, s6194];

var points = [];
for (var i = 0; i < adcLevels.length; i++) {
    for (var j = 0; j < sampleRows[i].length; j++) {
        points.push({ x: sampleRows[i][j], y: adcLevels[i] });
    }
}

var FONT = '"DejaVu Sans"';

/* top and right spines plus the legend box */
var framePlugin = {
    id: 'frame',
    afterDatasetsDraw: function (chart) {
        var ctx = chart.ctx;
        var a = chart.chartArea;
        ctx.save();
        ctx.strokeStyle = '#000';
        ctx.lineWidth = 1;
        ctx.strokeRect(a.left + 0.5, a.top + 0.5, a.right - a.left, a.bottom - a.top);

        var bx = a.right - 213.5, by = a.top + 7.5, bw = 207, bh = 45;
        ctx.beginPath();
        ctx.roundRect(bx, by, bw, bh, 3);
        ctx.fillStyle = 'rgba(255,255,255,0.8)';
        ctx.fill();
        ctx.strokeStyle = '#ccc';
        ctx.stroke();

        ctx.fillStyle = '#000';
        ctx.beginPath();
        ctx.arc(bx + 18, by + 22.5, 2.7, 0, Math.PI * 2);
        ctx.fill();

        ctx.textBaseline = 'alphabetic';
        ctx.textAlign = 'left';
        var tx = bx + 44;
        ctx.font = '13.9px ' + FONT;
        ctx.fillText(legendName, tx, by + 16);
        var parts = [
            ['italic', '\u03bc'], ['normal', ' = ' + legendMean + ', '],
            ['italic', '\u03c3'], ['normal', ' = ' + legendSigma]
        ];
        for (var k = 0; k < parts.length; k++) {
            ctx.font = parts[k][0] + ' 13.9px ' + FONT;
            ctx.fillText(parts[k][1], tx, by + 33);
            tx += ctx.measureText(parts[k][1]).width;
        }
        ctx.restore();
    }
};

new Chart(document.getElementById('chart'), {
    type: 'scatter',
    data: {
        datasets: [{
            label: legendName,
            data: points,
            backgroundColor: '#000',
            borderWidth: 0,
            pointRadius: 3,
            pointHoverRadius: 3
        }]
    },
    options: {
        responsive: false,
        animation: false,
        events: [],
        layout: { padding: { left: 0, right: 15, top: 0, bottom: 0 } },
        plugins: {
            legend: { display: false },
            tooltip: { enabled: false },
            title: {
                display: true,
                text: titleText,
                fullSize: false,
                color: '#000',
                font: { family: FONT, size: 16.67, weight: 'normal', lineHeight: 1.2 },
                padding: { top: 12, bottom: 3 }
            }
        },
        scales: {
            x: {
                type: 'linear',
                min: -479,
                max: 10347,
                afterFit: function (s) { s.height = 58; },
                afterBuildTicks: function (s) { s.ticks = xTicks.map(function (v) { return { value: v }; }); },
                title: {
                    display: true,
                    text: xLabel,
                    color: '#000',
                    font: { family: FONT, size: 13.9, lineHeight: 1.2 },
                    padding: { top: 0, bottom: 13.8 }
                },
                border: { color: '#000', width: 1 },
                grid: { color: '#b0b0b0', lineWidth: 1, tickColor: '#000', tickLength: 5 },
                ticks: {
                    color: '#000',
                    padding: 5,
                    maxRotation: 0,
                    font: { family: FONT, size: 13.9 },
                    callback: function (v) { return String(v); }
                }
            },
            y: {
                type: 'linear',
                min: 6133.11,
                max: 6196.9,
                afterFit: function (s) { s.width = 81; },
                afterBuildTicks: function (s) { s.ticks = yTicks.map(function (v) { return { value: v }; }); },
                title: {
                    display: true,
                    text: yLabel,
                    color: '#000',
                    font: { family: FONT, size: 13.9, lineHeight: 1.2 },
                    padding: { top: 12.7, bottom: 0 }
                },
                border: { color: '#000', width: 1 },
                grid: { color: '#b0b0b0', lineWidth: 1, tickColor: '#000', tickLength: 5 },
                ticks: {
                    color: '#000',
                    padding: 4,
                    font: { family: FONT, size: 13.9 },
                    callback: function (v) { return String(v); }
                }
            }
        }
    },
    plugins: [framePlugin]
});
</script>
</body>
</html>
